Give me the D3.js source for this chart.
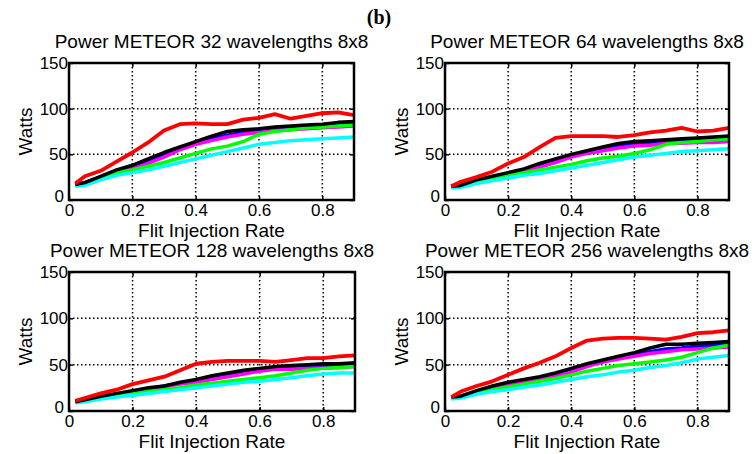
<!DOCTYPE html>
<html>
<head>
<meta charset="utf-8">
<script src="https://cdn.jsdelivr.net/npm/d3@7"></script>
<style>
  body { margin: 0; background: #fff; }
  svg { display: block; }
  text { font-family: "Liberation Sans", Arial, sans-serif; fill: #000; }
</style>
</head>
<body>
<div id="root"></div>
<script>
//DATA
const rates = [0.02, 0.05, 0.1, 0.15, 0.2, 0.25, 0.3, 0.35, 0.4, 0.45, 0.5, 0.55, 0.6, 0.65, 0.7, 0.75, 0.8, 0.85, 0.9];
const xTicks = [0, 0.2, 0.4, 0.6, 0.8];
const yTicks = [0, 50, 100, 150];
const titles = ["Power METEOR 32 wavelengths 8x8", "Power METEOR 64 wavelengths 8x8",
                "Power METEOR 128 wavelengths 8x8", "Power METEOR 256 wavelengths 8x8"];

// 32 wavelengths
const blue32    = [17, 19, 25, 31, 36, 42, 49, 56, 62, 67, 71, 74, 76, 78, 79, 80, 81, 82, 83];
const magenta32 = [17, 19, 25, 30, 34, 40, 47, 55, 61, 65, 69, 72, 74, 76, 77, 78, 79, 80, 81];
const green32   = [16, 18, 25, 30, 33, 37, 41, 46, 51, 56, 59, 64, 72, 75, 77, 79, 80, 81, 82];
const cyan32    = [15, 16, 22, 27, 30, 33, 37, 41, 45, 49, 53, 57, 61, 63, 65, 66, 67, 68, 69];
const black32   = [17, 19, 26, 33, 38, 45, 52, 58, 64, 70, 75, 77, 78, 80, 81, 82, 83, 85, 86];
const red32     = [18, 26, 32, 42, 52, 63, 76, 83, 84, 83, 83, 88, 90, 94, 89, 92, 95, 96, 93];

// 64 wavelengths
const blue64    = [15, 16, 21, 25, 29, 33, 38, 43, 48, 52, 56, 60, 61, 62, 64, 65, 66, 67, 67];
const magenta64 = [15, 16, 21, 25, 29, 32, 36, 41, 47, 51, 54, 57, 59, 60, 62, 62, 63, 63, 64];
const green64   = [14, 15, 20, 24, 28, 30, 33, 36, 39, 43, 46, 48, 51, 55, 61, 63, 64, 66, 67];
const cyan64    = [13, 14, 18, 21, 24, 27, 29, 32, 35, 38, 41, 44, 47, 49, 51, 53, 54, 55, 56];
const black64   = [15, 16, 22, 26, 30, 34, 40, 45, 50, 54, 58, 62, 64, 65, 66, 67, 68, 69, 70];
const red64     = [15, 20, 25, 31, 40, 47, 58, 68, 70, 70, 70, 69, 71, 74, 76, 79, 75, 76, 79];

// 128 wavelengths
const blue128    = [10, 12, 15, 18, 21, 24, 27, 30, 33, 36, 39, 42, 44, 46, 47, 48, 48, 49, 49];
const magenta128 = [10, 12, 15, 18, 21, 23, 26, 29, 31, 34, 37, 40, 43, 45, 45, 46, 46, 47, 48];
const green128   = [10, 11, 14, 17, 19, 21, 23, 25, 28, 30, 32, 34, 36, 38, 41, 44, 46, 47, 48];
const cyan128    = [9, 10, 13, 15, 17, 19, 21, 23, 25, 27, 29, 31, 32, 34, 36, 38, 40, 41, 41];
const black128   = [10, 12, 16, 19, 22, 25, 27, 31, 34, 38, 41, 44, 46, 48, 49, 50, 51, 51, 52];
const red128     = [11, 14, 19, 23, 29, 33, 37, 44, 51, 53, 54, 54, 54, 53, 55, 57, 57, 59, 60];

// 256 wavelengths
const blue256    = [15, 16, 21, 26, 30, 33, 36, 40, 44, 49, 53, 57, 61, 64, 67, 68, 70, 71, 72];
const magenta256 = [15, 16, 21, 25, 29, 32, 35, 38, 42, 48, 53, 56, 59, 62, 64, 66, 67, 68, 69];
const green256   = [14, 15, 19, 23, 26, 29, 32, 35, 39, 43, 46, 49, 51, 53, 55, 58, 63, 68, 71];
const cyan256    = [13, 14, 18, 21, 23, 26, 28, 31, 34, 37, 39, 42, 44, 47, 49, 52, 56, 58, 60];
const black256   = [15, 16, 22, 27, 31, 34, 37, 41, 46, 51, 55, 59, 63, 68, 72, 72, 73, 74, 75];
const red256     = [15, 21, 27, 32, 39, 46, 52, 59, 68, 76, 78, 79, 79, 78, 77, 80, 84, 85, 87];

const colors = ["#0000ff", "#ff00ff", "#00ff00", "#00ffff", "#000000", "#ff0000"];
const panelSeries = [
  [blue32, magenta32, green32, cyan32, black32, red32],
  [blue64, magenta64, green64, cyan64, black64, red64],
  [blue128, magenta128, green128, cyan128, black128, red128],
  [blue256, magenta256, green256, cyan256, black256, red256]
];

//LAYOUT
const width = 756, height = 454;
const boxes = [
  {left: 69, top: 63, w: 285, h: 137},
  {left: 445, top: 63, w: 284, h: 137},
  {left: 69, top: 272, w: 286, h: 139},
  {left: 445, top: 272, w: 284, h: 139}
];

const svg = d3.select('#root')
  .append('svg')
  .attr('width', width)
  .attr('height', height);

svg.append('text')
  .attr('x', 379).attr('y', 24)
  .attr('text-anchor', 'middle')
  .style('font-family', '"Liberation Serif", "Times New Roman", serif')
  .style('font-weight', 'bold')
  .style('font-size', '20px')
  .text('(b)');

boxes.forEach((b, i) => {
  const g = svg.append('g').attr('transform', `translate(${b.left},${b.top})`);

  const x = d3.scaleLinear().domain([0, 0.9]).range([0, b.w]);
  const y = d3.scaleLinear().domain([0, 150]).range([b.h, 0]);

  //GRID
  g.append('g').selectAll('line')
    .data(xTicks.slice(1))
    .join('line')
    .attr('x1', d => x(d)).attr('x2', d => x(d))
    .attr('y1', 0).attr('y2', b.h)
    .attr('stroke', '#000').attr('stroke-width', 1.5)
    .attr('stroke-dasharray', '1.5,2.5');
  g.append('g').selectAll('line')
    .data(yTicks.slice(1, -1))
    .join('line')
    .attr('x1', 0).attr('x2', b.w)
    .attr('y1', d => y(d)).attr('y2', d => y(d))
    .attr('stroke', '#000').attr('stroke-width', 1.5)
    .attr('stroke-dasharray', '1.5,2.5');

  //AXES
  const xa = g.append('g')
    .attr('transform', `translate(0,${b.h})`)
    .call(d3.axisBottom(x).tickValues(xTicks).tickFormat(d3.format('')).tickSizeInner(-4).tickSizeOuter(0).tickPadding(4));
  const xt = g.append('g')
    .call(d3.axisTop(x).tickValues(xTicks).tickFormat('').tickSizeInner(-4).tickSizeOuter(0));
  const ya = g.append('g')
    .call(d3.axisLeft(y).tickValues(yTicks).tickSizeInner(-4).tickSizeOuter(0).tickPadding(1));
  const yr = g.append('g')
    .attr('transform', `translate(${b.w},0)`)
    .call(d3.axisRight(y).tickValues(yTicks).tickFormat('').tickSizeInner(-4).tickSizeOuter(0));
  [xa, xt, ya, yr].forEach(a => {
    a.select('.domain').remove();
    a.selectAll('line').attr('stroke', '#000').attr('stroke-width', 1.5);
    a.selectAll('text').style('font-size', '17px').style('font-family', '"Liberation Sans", Arial, sans-serif').attr('fill', '#000');
  });
  // keep the y "0" clear of the x "0"
  ya.selectAll('.tick').filter(d => d === 0).select('text').attr('x', -5).attr('dy', '0.1em');

  //LINES
  const line = d3.line()
    .x((d, k) => x(rates[k]))
    .y(d => y(d));
  panelSeries[i].forEach((s, k) => {
    g.append('path')
      .datum(s)
      .attr('fill', 'none')
      .attr('stroke', colors[k])
      .attr('stroke-width', k === 5 ? 3.8 : 3.5)
      .attr('stroke-linejoin', 'round')
      .attr('d', line);
  });

  //FRAME
  g.append('rect')
    .attr('width', b.w).attr('height', b.h)
    .attr('fill', 'none').attr('stroke', '#000').attr('stroke-width', 2.5);

  //LABELS
  g.append('text')
    .attr('x', b.w / 2).attr('y', -15)
    .attr('text-anchor', 'middle')
    .style('font-size', '19px')
    .text(titles[i]);
  g.append('text')
    .attr('x', b.w / 2).attr('y', b.h + 36.7)
    .attr('text-anchor', 'middle')
    .style('font-size', '19px')
    .text('Flit Injection Rate');
  g.append('text')
    .attr('transform', `translate(${-37},${b.h / 2}) rotate(-90)`)
    .attr('text-anchor', 'middle')
    .style('font-size', '19px')
    .text('Watts');
});
</script>
</body>
</html>
